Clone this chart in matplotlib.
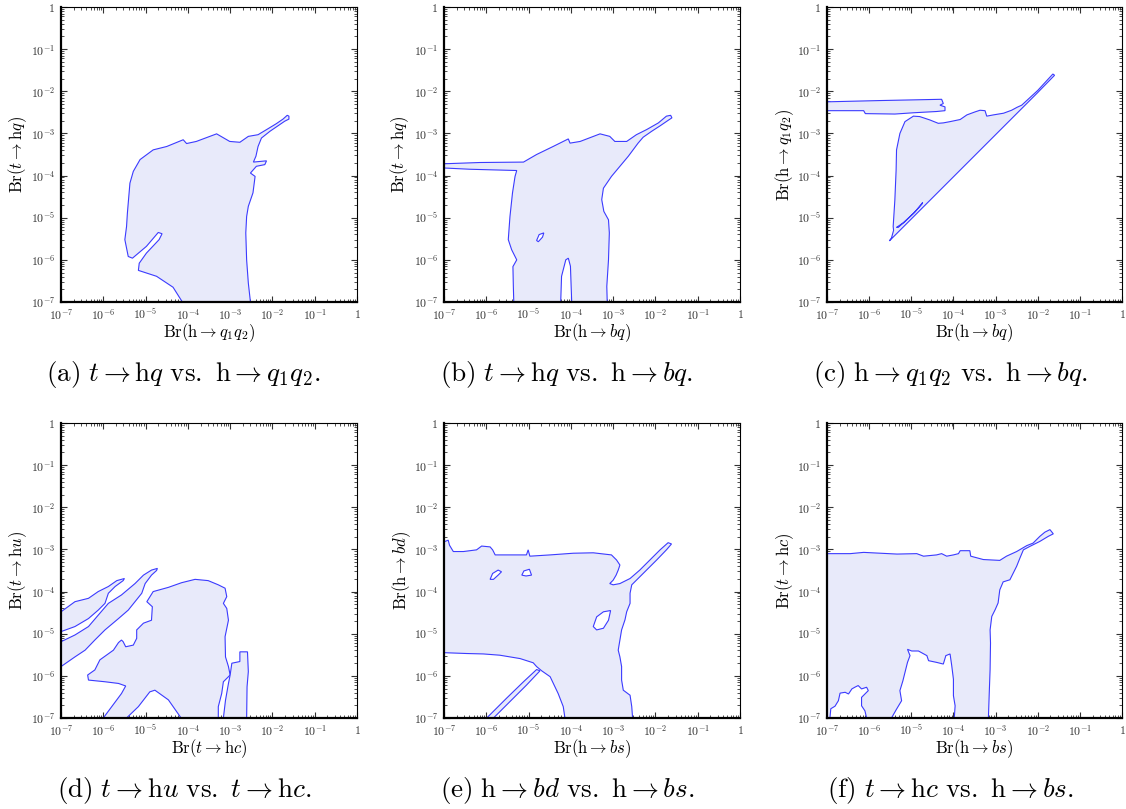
import numpy as np
import matplotlib
matplotlib.use("Agg")
import matplotlib.pyplot as plt
from matplotlib.ticker import FixedLocator, FixedFormatter, LogLocator, NullFormatter

plt.rcParams['mathtext.fontset'] = 'cm'
plt.rcParams['font.family'] = ['DejaVu Serif']

# ---------------- data (log10 of branching ratios) ----------------
TICK_EXP = [-7, -6, -5, -4, -3, -2, -1, 0]
TICK_LABELS = [r'$10^{-7}$', r'$10^{-6}$', r'$10^{-5}$', r'$10^{-4}$',
               r'$10^{-3}$', r'$10^{-2}$', r'$10^{-1}$', r'$1$']

# (a) t->hq vs h->q1q2
a_main = [[-4.13, -7.0], [-4.35, -6.65], [-4.74, -6.39], [-5.17, -6.25], [-5.15, -6.08],
          [-4.98, -5.84], [-4.68, -5.52], [-4.61, -5.38], [-4.70, -5.35], [-4.98, -5.68],
          [-5.31, -5.96], [-5.41, -5.92], [-5.49, -5.52], [-5.45, -5.21], [-5.43, -4.89],
          [-5.37, -4.18], [-5.29, -3.90], [-5.13, -3.62], [-4.82, -3.39], [-4.50, -3.31],
          [-4.11, -3.15], [-4.03, -3.24], [-3.80, -3.19], [-3.32, -3.01], [-3.01, -3.19],
          [-2.77, -3.21], [-2.57, -3.07], [-2.34, -3.03], [-2.14, -2.91], [-1.91, -2.77],
          [-1.75, -2.66], [-1.65, -2.57], [-1.61, -2.59], [-1.61, -2.66], [-1.71, -2.71],
          [-1.87, -2.82], [-2.06, -2.95], [-2.26, -3.11], [-2.34, -3.31], [-2.39, -3.54],
          [-2.45, -3.68], [-2.14, -3.65], [-2.18, -3.74], [-2.38, -3.78], [-2.52, -3.94],
          [-2.41, -4.02], [-2.46, -4.41], [-2.57, -4.73], [-2.61, -4.97], [-2.63, -5.36],
          [-2.61, -6.00], [-2.57, -6.55], [-2.52, -7.0]]

# (b) t->hq vs h->bq
b_main = [[-5.35, -7.0], [-5.36, -6.63], [-5.37, -6.16], [-5.28, -6.00], [-5.40, -5.76],
          [-5.48, -5.52], [-5.44, -4.97], [-5.38, -4.41], [-5.32, -4.02], [-5.28, -3.88],
          [-6.39, -3.85], [-7.0, -3.82], [-7.0, -3.72], [-6.15, -3.69], [-5.12, -3.68],
          [-4.81, -3.50], [-4.42, -3.31], [-4.06, -3.13], [-4.02, -3.23], [-3.78, -3.19],
          [-3.31, -3.01], [-3.08, -3.07], [-2.96, -3.19], [-2.68, -3.19], [-2.45, -3.03],
          [-2.21, -2.91], [-1.93, -2.75], [-1.74, -2.59], [-1.64, -2.57], [-1.61, -2.63],
          [-1.70, -2.69], [-1.89, -2.82], [-2.09, -2.95], [-2.29, -3.09], [-2.41, -3.23],
          [-2.64, -3.54], [-2.84, -3.78], [-3.04, -4.02], [-3.23, -4.30], [-3.27, -4.57],
          [-3.22, -4.85], [-3.11, -5.05], [-3.09, -5.36], [-3.11, -6.00], [-3.15, -6.63],
          [-3.14, -7.0], [-3.98, -7.0], [-4.01, -6.15], [-4.06, -5.96], [-4.12, -6.00],
          [-4.22, -6.39], [-4.24, -7.0]]
b_hole = [[-4.81, -5.54], [-4.75, -5.40], [-4.64, -5.36], [-4.67, -5.46], [-4.77, -5.57]]

# (c) h->q1q2 vs h->bq
c_band = [[-7.0, -2.25], [-5.74, -2.22], [-4.28, -2.19], [-4.24, -2.29], [-4.32, -2.33],
          [-4.20, -2.37], [-4.20, -2.46], [-4.40, -2.48], [-4.95, -2.51], [-5.39, -2.54],
          [-6.09, -2.53], [-6.13, -2.46], [-7.0, -2.46]]
c_tri = [[-5.43, -5.21], [-5.39, -4.58], [-5.36, -3.87], [-5.35, -3.39], [-5.27, -3.00],
         [-5.15, -2.72], [-4.95, -2.59], [-4.80, -2.60], [-4.56, -2.68], [-4.36, -2.76],
         [-4.24, -2.75], [-4.08, -2.72], [-3.84, -2.67], [-3.68, -2.56], [-3.49, -2.49],
         [-3.37, -2.45], [-3.25, -2.46], [-3.21, -2.59], [-3.05, -2.56], [-2.81, -2.52],
         [-2.62, -2.45], [-2.49, -2.38], [-2.38, -2.33], [-2.00, -1.98], [-1.64, -1.59],
         [-1.60, -1.62], [-2.00, -2.03], [-3.00, -3.03], [-4.00, -4.03], [-5.00, -5.03],
         [-5.52, -5.55], [-5.47, -5.48], [-5.42, -5.30]]
c_hole = [[-5.35, -5.23], [-5.19, -5.12], [-4.95, -4.90], [-4.75, -4.68], [-4.73, -4.64],
          [-4.91, -4.86], [-5.15, -5.09], [-5.31, -5.23]]

# (d) t->hu vs t->hc
d_band1 = [[-7.0, -4.48], [-6.67, -4.24], [-6.35, -4.16], [-6.12, -4.00], [-5.88, -3.88],
           [-5.68, -3.74], [-5.50, -3.69], [-5.53, -3.74], [-5.72, -3.88], [-5.88, -4.04],
           [-5.96, -4.28], [-6.12, -4.44], [-6.35, -4.64], [-6.67, -4.83], [-7.0, -4.95]]
d_band2 = [[-7.0, -5.19], [-6.67, -5.03], [-6.35, -4.83], [-6.12, -4.56], [-5.88, -4.28],
           [-5.57, -4.08], [-5.25, -3.81], [-5.05, -3.61], [-4.86, -3.49], [-4.72, -3.45],
           [-4.74, -3.50], [-4.86, -3.61], [-5.01, -3.81], [-5.09, -4.04], [-5.25, -4.24],
           [-5.41, -4.44], [-5.64, -4.64], [-5.96, -4.91], [-6.20, -5.15], [-6.43, -5.39],
           [-6.67, -5.55], [-7.0, -5.78]]
d_main = [[-6.00, -7.0], [-5.80, -6.73], [-5.57, -6.42], [-5.47, -6.24], [-5.64, -6.18],
          [-5.96, -6.14], [-6.35, -6.10], [-6.37, -5.98], [-6.20, -5.86], [-6.08, -5.62],
          [-5.76, -5.39], [-5.64, -5.21], [-5.57, -5.15], [-5.53, -5.19], [-5.47, -5.31],
          [-5.29, -5.27], [-5.21, -5.11], [-5.21, -4.91], [-5.05, -4.75], [-4.86, -4.68],
          [-4.84, -4.36], [-4.97, -4.24], [-4.82, -4.00], [-4.46, -3.90], [-4.15, -3.79],
          [-3.83, -3.71], [-3.52, -3.74], [-3.28, -3.84], [-3.12, -3.92], [-3.08, -4.12],
          [-3.16, -4.28], [-3.08, -4.40], [-3.04, -4.68], [-3.12, -5.07], [-3.11, -5.55],
          [-3.04, -5.78], [-3.00, -5.98], [-3.16, -6.14], [-3.20, -6.42], [-3.28, -6.73],
          [-3.28, -7.0], [-4.16, -7.0], [-4.46, -6.57], [-4.78, -6.34], [-4.90, -6.38],
          [-5.17, -6.73], [-5.45, -7.0]]
d_strip = [[-3.16, -7.0], [-3.11, -6.58], [-3.04, -6.18], [-3.00, -5.98], [-2.96, -5.70],
           [-2.77, -5.66], [-2.77, -5.43], [-2.59, -5.43], [-2.57, -5.90], [-2.60, -6.26],
           [-2.61, -7.0]]

# (e) h->bd vs h->bs
e_main = [[-7.0, -2.82], [-6.90, -2.78], [-6.87, -2.90], [-6.78, -3.05], [-6.54, -3.05],
          [-6.23, -3.01], [-6.11, -2.92], [-5.91, -2.94], [-5.85, -3.01], [-5.79, -3.13],
          [-5.52, -3.13], [-5.05, -3.13], [-5.01, -3.01], [-4.97, -3.16], [-4.49, -3.13],
          [-3.94, -3.09], [-3.47, -3.08], [-3.04, -3.13], [-2.92, -3.25], [-2.84, -3.37],
          [-2.88, -3.49], [-2.93, -3.61], [-3.00, -3.73], [-3.08, -3.81], [-3.00, -3.84],
          [-2.84, -3.81], [-2.60, -3.69], [-2.37, -3.49], [-2.13, -3.25], [-1.89, -3.01],
          [-1.70, -2.84], [-1.62, -2.87], [-1.74, -3.01], [-1.97, -3.25], [-2.21, -3.49],
          [-2.41, -3.69], [-2.56, -3.84], [-2.60, -4.04], [-2.60, -4.28], [-2.68, -4.48],
          [-2.72, -4.67], [-2.80, -4.91], [-2.84, -5.15], [-2.88, -5.39], [-2.84, -5.55],
          [-2.80, -5.78], [-2.80, -6.10], [-2.76, -6.34], [-2.60, -6.46], [-2.56, -6.73],
          [-2.54, -7.0], [-4.14, -7.0], [-4.18, -6.73], [-4.30, -6.42], [-4.49, -6.02],
          [-4.69, -5.88], [-4.81, -5.78], [-4.89, -5.69], [-5.20, -5.59], [-5.68, -5.51],
          [-6.07, -5.48], [-6.46, -5.47], [-7.0, -5.45]]
e_diag = [[-5.99, -7.0], [-5.52, -6.53], [-5.12, -6.14], [-4.81, -5.85], [-4.73, -5.88],
          [-5.05, -6.22], [-5.44, -6.61], [-5.83, -7.0]]
e_hole1 = [[-5.91, -3.71], [-5.85, -3.57], [-5.72, -3.49], [-5.64, -3.53], [-5.72, -3.61],
           [-5.83, -3.71]]
e_hole2 = [[-5.16, -3.61], [-5.11, -3.51], [-4.98, -3.47], [-4.93, -3.61], [-5.06, -3.63]]
e_hole3 = [[-3.47, -4.83], [-3.39, -4.60], [-3.23, -4.48], [-3.06, -4.45], [-3.11, -4.68],
           [-3.23, -4.87], [-3.39, -4.91]]

# (f) t->hc vs h->bs
f_main = [[-7.0, -7.0], [-7.0, -3.10], [-6.45, -3.10], [-6.13, -3.07], [-5.34, -3.11],
          [-4.87, -3.10], [-4.71, -3.16], [-4.40, -3.13], [-4.28, -3.10], [-4.16, -3.16],
          [-4.00, -3.13], [-3.88, -3.10], [-3.84, -3.03], [-3.61, -3.03], [-3.59, -3.16],
          [-3.29, -3.24], [-2.90, -3.26], [-2.74, -3.16], [-2.50, -3.05], [-2.26, -2.91],
          [-2.11, -2.85], [-1.95, -2.69], [-1.83, -2.59], [-1.71, -2.53], [-1.63, -2.63],
          [-1.75, -2.69], [-1.95, -2.81], [-2.19, -2.93], [-2.34, -3.01], [-2.42, -3.20],
          [-2.50, -3.40], [-2.58, -3.56], [-2.66, -3.72], [-2.82, -3.77], [-2.90, -3.96],
          [-2.94, -4.27], [-3.01, -4.43], [-3.09, -4.59], [-3.13, -4.91], [-3.12, -5.22],
          [-3.13, -5.85], [-3.15, -6.41], [-3.17, -7.0], [-3.98, -7.0], [-3.96, -6.71],
          [-4.00, -6.47], [-4.00, -6.08], [-4.04, -5.76], [-4.08, -5.48], [-4.18, -5.52],
          [-4.24, -5.72], [-4.40, -5.68], [-4.59, -5.64], [-4.63, -5.52], [-4.83, -5.41],
          [-4.99, -5.41], [-5.09, -5.37], [-5.03, -5.52], [-5.09, -5.68], [-5.15, -5.92],
          [-5.20, -6.12], [-5.27, -6.35], [-5.23, -6.59], [-5.35, -6.79], [-5.47, -7.0],
          [-6.06, -7.0], [-6.10, -6.83], [-6.18, -6.71], [-6.18, -6.51], [-6.10, -6.43],
          [-6.02, -6.35], [-6.06, -6.27], [-6.18, -6.31], [-6.26, -6.23], [-6.34, -6.27],
          [-6.41, -6.31], [-6.49, -6.43], [-6.57, -6.39], [-6.69, -6.41], [-6.73, -6.59],
          [-6.81, -6.72], [-6.91, -6.78], [-6.93, -7.0]]

# ---------------- styling ----------------
FILL = '#e8eafa'
EDGE = '#3b3bff'

fig = plt.figure(figsize=(11.26, 8.09), dpi=100)
W, H = 1126.0, 809.0


def make_ax(left, top, right, bottom):
    ax = fig.add_axes([left / W, 1 - bottom / H, (right - left) / W, (bottom - top) / H])
    ax.set_xscale('log')
    ax.set_yscale('log')
    ax.set_xlim(1e-7, 1)
    ax.set_ylim(1e-7, 1)
    for axis in (ax.xaxis, ax.yaxis):
        axis.set_major_locator(FixedLocator([10.0 ** e for e in TICK_EXP]))
        axis.set_major_formatter(FixedFormatter(TICK_LABELS))
        axis.set_minor_locator(LogLocator(base=10, subs=np.arange(2, 10), numticks=20))
        axis.set_minor_formatter(NullFormatter())
    ax.tick_params(which='both', direction='in', top=True, right=True,
                   labelsize=8.5, labelcolor='#333333', color='#333333')
    ax.tick_params(which='major', length=4, width=0.8, pad=4)
    ax.tick_params(which='minor', length=2, width=0.6)
    ax.spines['left'].set_linewidth(1.6)
    ax.spines['bottom'].set_linewidth(1.6)
    ax.spines['top'].set_linewidth(0.8)
    ax.spines['right'].set_linewidth(0.8)
    return ax


def region(ax, pts, hole=False):
    arr = 10.0 ** np.asarray(pts, dtype=float)
    ax.fill(arr[:, 0], arr[:, 1], facecolor='white' if hole else FILL,
            edgecolor=EDGE, linewidth=0.8, zorder=3 if hole else 2)


def labels(ax, xl, yl, ylx):
    ax.set_xlabel(xl, fontsize=12)
    ax.set_ylabel(yl, fontsize=12)
    ax.xaxis.set_label_coords(0.5, -0.105)
    ax.xaxis.label.set_va('center')
    ax.yaxis.set_label_coords(ylx, 0.5)
    ax.yaxis.label.set_va('center')


ax_a = make_ax(61, 7, 357, 302)
ax_b = make_ax(444, 7, 740, 302)
ax_c = make_ax(827, 7, 1122, 302)
ax_d = make_ax(61, 423, 357, 718)
ax_e = make_ax(444, 423, 740, 718)
ax_f = make_ax(827, 423, 1122, 718)

region(ax_a, a_main)

region(ax_b, b_main)
region(ax_b, b_hole, hole=True)

region(ax_c, c_band)
region(ax_c, c_tri)
region(ax_c, c_hole, hole=True)

region(ax_d, d_band1)
region(ax_d, d_band2)
region(ax_d, d_main)
region(ax_d, d_strip)

region(ax_e, e_main)
region(ax_e, e_diag)
for h in (e_hole1, e_hole2, e_hole3):
    region(ax_e, h, hole=True)

region(ax_f, f_main)

labels(ax_a, r'$\mathrm{Br}(\mathrm{h}\rightarrow q_1q_2)$', r'$\mathrm{Br}(t\rightarrow \mathrm{h}q)$', -0.145)
labels(ax_b, r'$\mathrm{Br}(\mathrm{h}\rightarrow bq)$', r'$\mathrm{Br}(t\rightarrow \mathrm{h}q)$', -0.149)
labels(ax_c, r'$\mathrm{Br}(\mathrm{h}\rightarrow bq)$', r'$\mathrm{Br}(\mathrm{h}\rightarrow q_1q_2)$', -0.142)
labels(ax_d, r'$\mathrm{Br}(t\rightarrow \mathrm{h}c)$', r'$\mathrm{Br}(t\rightarrow \mathrm{h}u)$', -0.145)
labels(ax_e, r'$\mathrm{Br}(\mathrm{h}\rightarrow bs)$', r'$\mathrm{Br}(\mathrm{h}\rightarrow bd)$', -0.142)
labels(ax_f, r'$\mathrm{Br}(\mathrm{h}\rightarrow bs)$', r'$\mathrm{Br}(t\rightarrow \mathrm{h}c)$', -0.142)

captions = [
    (183, 375, r'$\mathrm{(a)}\ t\rightarrow \mathrm{h}q\ \mathrm{vs.}\ \mathrm{h}\rightarrow q_1q_2.$'),
    (567, 375, r'$\mathrm{(b)}\ t\rightarrow \mathrm{h}q\ \mathrm{vs.}\ \mathrm{h}\rightarrow bq.$'),
    (950, 375, r'$\mathrm{(c)}\ \mathrm{h}\rightarrow q_1q_2\ \mathrm{vs.}\ \mathrm{h}\rightarrow bq.$'),
    (184, 790, r'$\mathrm{(d)}\ t\rightarrow \mathrm{h}u\ \mathrm{vs.}\ t\rightarrow \mathrm{h}c.$'),
    (567, 790, r'$\mathrm{(e)}\ \mathrm{h}\rightarrow bd\ \mathrm{vs.}\ \mathrm{h}\rightarrow bs.$'),
    (950, 790, r'$\mathrm{(f)}\ t\rightarrow \mathrm{h}c\ \mathrm{vs.}\ \mathrm{h}\rightarrow bs.$'),
]
for cx, cy, txt in captions:
    fig.text(cx / W, 1 - cy / H, txt, ha='center', va='center', fontsize=19.5)

fig.savefig('out.png', dpi=100)
